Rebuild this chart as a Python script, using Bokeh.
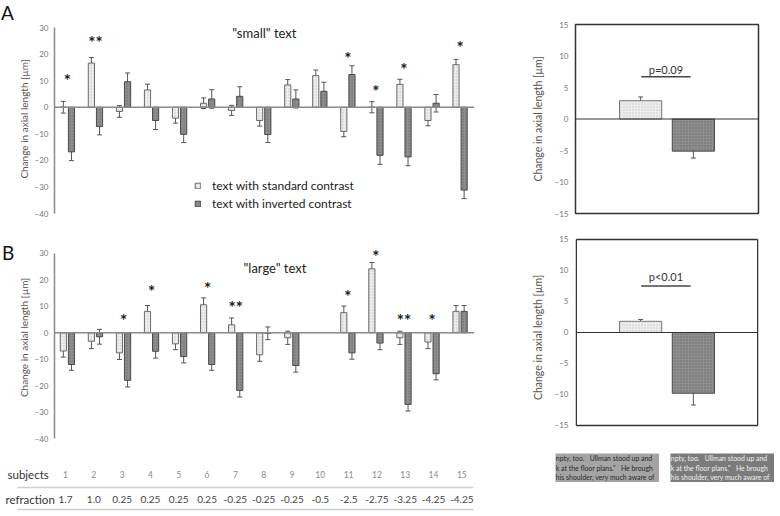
import numpy as np
from bokeh.plotting import figure
from bokeh.layouts import column, row
from bokeh.models import (Range1d, ColumnDataSource, Whisker, TeeHead, Span, Label, LabelSet,
                          Legend, LegendItem, FixedTicker, Spacer, Div)
from bokeh.core.properties import value
from bokeh.embed import file_html
from bokeh.resources import INLINE

FONT = "Lato"
nan = float("nan")

# ---------------- data ----------------
subjects = list(range(1, 16))
refraction = ["1.7", "1.0", "0.25", "0.25", "0.25", "0.25", "-0.25", "-0.25", "-0.25",
              "-0.5", "-2.5", "-2.75", "-3.25", "-4.25", "-4.25"]

small_std = [0.0, 16.6, -1.6, 6.5, -4.1, 1.5, -1.2, -5.0, 8.4, 11.9, -9.1, 0.0, 8.6, -5.0, 16.0]
small_std_err = [2.2, 2.1, 2.2, 2.2, 1.9, 2.0, 1.9, 2.1, 2.0, 2.1, 2.0, 2.1, 1.9, 2.0, 2.0]
small_inv = [-16.8, -7.3, 9.6, -5.0, -10.2, 3.1, 4.1, -10.3, 3.1, 6.0, 12.3, -18.1, -18.7, 1.5, -31.2]
small_inv_err = [3.3, 3.1, 3.3, 3.4, 3.1, 3.5, 3.6, 3.0, 3.4, 3.4, 3.3, 3.4, 3.3, 3.3, 3.2]
small_star_subj = [1, 2, 11, 12, 13, 15]
small_star_text = ["*", "**", "*", "*", "*", "*"]
small_star_y = [11.2, 25.6, 19.6, 7.0, 15.4, 23.7]

large_std = [-6.9, -3.2, -7.6, 8.1, -4.2, 10.6, 3.0, -8.3, -1.9, nan, 7.6, 24.2, -1.9, -3.5, 8.1]
large_std_err = [2.3, 2.8, 2.5, 2.2, 2.2, 2.6, 2.6, 2.5, 2.5, nan, 2.5, 2.4, 2.5, 2.5, 2.2]
large_inv = [-12.0, -1.5, -18.0, -7.0, -9.0, -12.0, -21.8, -0.2, -12.4, nan, -7.6, -3.9, -27.1, -15.5, 8.1]
large_inv_err = [2.2, 2.8, 2.5, 2.6, 2.4, 2.2, 2.5, 2.4, 2.5, nan, 2.4, 2.5, 2.5, 2.3, 2.2]
large_star_subj = [3, 4, 6, 7, 11, 12, 13, 14]
large_star_text = ["*", "*", "*", "**", "*", "*", "**", "*"]
large_star_y = [5.9, 16.6, 17.9, 10.7, 14.7, 30.1, 5.7, 5.7]

conditions = ["text with standard contrast", "text with inverted contrast"]
mean_small = [2.9, -5.1]
mean_small_err = [0.6, 1.1]
mean_large = [1.8, -9.8]
mean_large_err = [0.3, 1.9]

NB = "\u00a0"
box_lines = [f"npty, too.{NB}{NB}{NB}Ullman stood up and",
             f"k at the floor plans.\"{NB}{NB}{NB}He brough",
             "his shoulder, very much aware of"]

# ---------------- styles ----------------
STD_FILL, STD_LINE, STD_HATCH = "#eeeeee", "#6a6a6a", "#c4c4c4"
INV_FILL, INV_LINE, INV_HATCH = "#8e8e8e", "#4a4a4a", "#6c6c6c"
ERR = "#555555"


def style_yaxis(p, ticks, standoff, label_standoff, label_size):
    ax = p.yaxis[0]
    ax.ticker = FixedTicker(ticks=ticks)
    ax.axis_label = "Change in axial length [µm]"
    ax.axis_label_text_font = FONT
    ax.axis_label_text_font_style = "normal"
    ax.axis_label_text_font_size = label_size
    ax.axis_label_text_color = "#555555"
    ax.axis_label_standoff = label_standoff
    ax.major_label_text_font = FONT
    ax.major_label_text_font_size = "8px"
    ax.major_label_text_color = "#777777"
    ax.major_label_standoff = standoff
    ax.major_tick_line_color = None
    ax.minor_tick_line_color = None
    ax.major_tick_out = 0
    ax.major_tick_in = 0
    ax.minor_tick_out = 0
    ax.minor_tick_in = 0


def add_whiskers(p, xs, vals, errs):
    v = np.array(vals, dtype=float)
    e = np.array(errs, dtype=float)
    ok = ~np.isnan(v)
    src = ColumnDataSource(dict(base=np.array(xs, dtype=float)[ok], upper=(v + e)[ok], lower=(v - e)[ok]))
    w = Whisker(source=src, base="base", upper="upper", lower="lower",
                line_color=ERR, line_width=1,
                upper_head=TeeHead(size=5, line_color=ERR, line_width=1),
                lower_head=TeeHead(size=5, line_color=ERR, line_width=1))
    p.add_layout(w)


def left_panel(std, std_err, inv, inv_err, st_subj, st_text, st_y, title, title_xy,
               height, top, bottom, y_end, legend=False):
    p = figure(width=506, height=height, x_range=Range1d(0.54, 15.55), y_range=Range1d(-40, y_end),
               x_axis_location=None, output_backend="svg", toolbar_location=None,
               min_border_left=36, min_border_right=45, min_border_top=top, min_border_bottom=bottom)
    p.grid.visible = False
    p.outline_line_color = None
    style_yaxis(p, list(range(-40, 31, 10)), 6, 2, "10px")
    p.yaxis[0].bounds = (-40, 30)
    p.yaxis[0].axis_line_color = "#8a8a8a"
    p.yaxis[0].axis_line_width = 1.5

    xs = np.array(subjects, dtype=float)
    off = 0.145
    d_std = ColumnDataSource(dict(x=xs - off, top=std))
    d_inv = ColumnDataSource(dict(x=xs + off, top=inv))
    r1 = p.vbar(x="x", top="top", bottom=0, width=0.22, source=d_std, fill_color=STD_FILL,
                line_color=STD_LINE, line_width=1, hatch_pattern=".", hatch_color=STD_HATCH,
                hatch_scale=3, hatch_weight=0.8)
    r2 = p.vbar(x="x", top="top", bottom=0, width=0.22, source=d_inv, fill_color=INV_FILL,
                line_color=INV_LINE, line_width=1, hatch_pattern=".", hatch_color=INV_HATCH,
                hatch_scale=3, hatch_weight=0.8)
    p.segment(x0=[0.54], x1=[15.5], y0=[0], y1=[0], line_color="#8a8a8a", line_width=1.5)
    add_whiskers(p, xs - off, std, std_err)
    add_whiskers(p, xs + off, inv, inv_err)

    ssrc = ColumnDataSource(dict(x=st_subj, y=st_y, t=st_text))
    p.add_layout(LabelSet(x="x", y="y", text="t", source=ssrc, text_align="center",
                          text_baseline="middle", text_font=value(FONT), text_font_size="17px",
                          text_font_style="bold", text_color="#1a1a1a", y_offset=-3))
    p.add_layout(Label(x=title_xy[0], y=title_xy[1], text=title, text_align="center",
                       text_baseline="middle", text_font=FONT, text_font_size="13px",
                       text_color="#222222"))
    if legend:
        lg = Legend(items=[LegendItem(label=conditions[0], renderers=[r1]),
                           LegendItem(label=conditions[1], renderers=[r2])],
                    location=(140, 2), orientation="vertical", padding=0, margin=0,
                    glyph_width=7, glyph_height=7, label_height=14, spacing=3, label_standoff=11,
                    label_text_font=FONT, label_text_font_size="12px", label_text_color="#222222",
                    border_line_alpha=0, background_fill_alpha=0)
        p.add_layout(lg)
    return p


def right_panel(vals, errs, ptext, p_text_y, p_line_y, height, top, bottom, y_lo, y_hi, manual_box):
    p = figure(width=260, height=height, x_range=Range1d(-0.735, 2.735), y_range=Range1d(y_lo, y_hi),
               x_axis_location=None, output_backend="svg", toolbar_location=None,
               min_border_left=55, min_border_right=22, min_border_top=top, min_border_bottom=bottom)
    p.grid.visible = False
    style_yaxis(p, list(range(-15, 16, 5)), 7, 8, "10.5px")
    p.yaxis[0].axis_line_color = None
    xs = np.arange(len(conditions)) + 0.5
    p.vbar(x=xs[:1], top=vals[:1], bottom=0, width=0.8, fill_color=STD_FILL, line_color="#777777",
           line_width=1, hatch_pattern=".", hatch_color=STD_HATCH, hatch_scale=3, hatch_weight=0.8)
    p.vbar(x=xs[1:], top=vals[1:], bottom=0, width=0.8, fill_color=INV_FILL, line_color=INV_LINE,
           line_width=1, hatch_pattern=".", hatch_color=INV_HATCH, hatch_scale=3, hatch_weight=0.8)
    add_whiskers(p, xs, vals, errs)
    if manual_box:
        p.outline_line_color = None
        xl, xr = -0.721, 2.721
        p.segment(x0=[xl, xl, xl, xr, xl], x1=[xr, xr, xl, xr, xr], y0=[15, -15, -15, -15, 0],
                  y1=[15, -15, 15, 15, 0], line_color="#333333",
                  line_width=[1.5, 1.5, 1.5, 1.5, 1.2])
    else:
        p.outline_line_color = "#333333"
        p.outline_line_width = 1.5
        p.add_layout(Span(location=0, dimension="width", line_color="#333333", line_width=1.2))
    p.segment(x0=[0.512], x1=[1.447], y0=[p_line_y], y1=[p_line_y], line_color="#444444", line_width=1.5)
    p.add_layout(Label(x=0.98, y=p_text_y, text=ptext, text_align="center", text_baseline="middle",
                       text_font=FONT, text_font_size="11px", text_color="#333333"))
    return p


# row 1 frames: page y 24..213 ; panel A axis 30 -> y 27
pA = left_panel(small_std, small_std_err, small_inv, small_inv_err, small_star_subj, small_star_text,
                small_star_y, '"small" text', (8.02, 27.8), 233, 24, 20, 31.13, legend=True)
pAr = right_panel(mean_small, mean_small_err, "p=0.09", 7.9, 6.7, 233, 24, 20, -15, 15, False)
# row 2 frames: page y 236..438 ; panel B axis 30 -> y 253
pB = left_panel(large_std, large_std_err, large_inv, large_inv_err, large_star_subj, large_star_text,
                large_star_y, '"large" text', (8.4, 24.6), 212, 3, 7, 36.43)
pBr = right_panel(mean_large, mean_large_err, "p<0.01", 9.0, 7.5, 212, 3, 7, -17.1, 15.48, True)

LETTER_CSS = "font-family:Lato,sans-serif;font-size:19px;line-height:normal;color:#111111;margin:0;"
divA = Div(text=f'<div style="{LETTER_CSS}padding-left:1px;padding-top:1px;">A</div>', width=14,
           height=233, margin=(0, 0, 0, 0))
divB = Div(text=f'<div style="{LETTER_CSS}padding-left:2px;padding-top:8px;">B</div>', width=14,
           height=212, margin=(0, 0, 0, 0))

# ---------------- table ----------------
pt = figure(width=520, height=69, x_range=Range1d(-1.2254, 17.143), y_range=Range1d(69, 0),
            x_axis_location=None, y_axis_location=None, output_backend="svg", toolbar_location=None,
            min_border_left=0, min_border_right=0, min_border_top=0, min_border_bottom=0)
pt.grid.visible = False
pt.outline_line_color = None
pt.text(x=subjects, y=[29] * len(subjects), text=[str(s) for s in subjects], text_align="center",
        text_baseline="middle", text_font=value(FONT), text_font_size="8.5px", text_color="#8a8a8a",
        x_offset=2)
pt.text(x=subjects, y=[54] * len(subjects), text=refraction, text_align="center",
        text_baseline="middle", text_font=value(FONT), text_font_size="10px", text_color="#444444",
        x_offset=2)
pt.text(x=[-0.978, -1.049], y=[29, 54], text=["subjects", "refraction"], text_align="left",
        text_baseline="middle", text_font=value(FONT), text_font_size="11.5px", text_color="#333333")
pt.segment(x0=[-0.625, -0.625], x1=[15.48, 15.48], y0=[42, 64], y1=[42, 64],
           line_color="#cfcfcf", line_width=1.5)


def text_box(width, bg, fg):
    b = figure(width=width, height=29, x_range=Range1d(0, width), y_range=Range1d(29, 0),
               x_axis_location=None, y_axis_location=None, output_backend="svg", toolbar_location=None,
               min_border_left=0, min_border_right=0, min_border_top=0, min_border_bottom=0)
    b.grid.visible = False
    b.outline_line_color = None
    b.background_fill_color = bg
    b.border_fill_color = bg
    b.text(x=[0.3, 0.3, 0.3], y=[4.5, 14, 23.5], text=box_lines, text_align="left",
           text_baseline="middle", text_font=value(FONT), text_font_size="6.9px", text_color=fg)
    return b


box1 = text_box(104, "#a4a4a4", "#2a2a2a")
box2 = text_box(104, "#7b7b7b", "#f0f0f0")

boxes = column(Spacer(width=260, height=8, margin=(0, 0, 0, 0)),
               row(Spacer(width=35, height=29, margin=(0, 0, 0, 0)), box1,
                   Spacer(width=11, height=29, margin=(0, 0, 0, 0)), box2))

top_block = row(column(divA, divB), column(row(pA, pAr), row(pB, pBr)))
layout = column(top_block, row(pt, boxes))

open("out.html", "w").write(file_html(layout, INLINE))
